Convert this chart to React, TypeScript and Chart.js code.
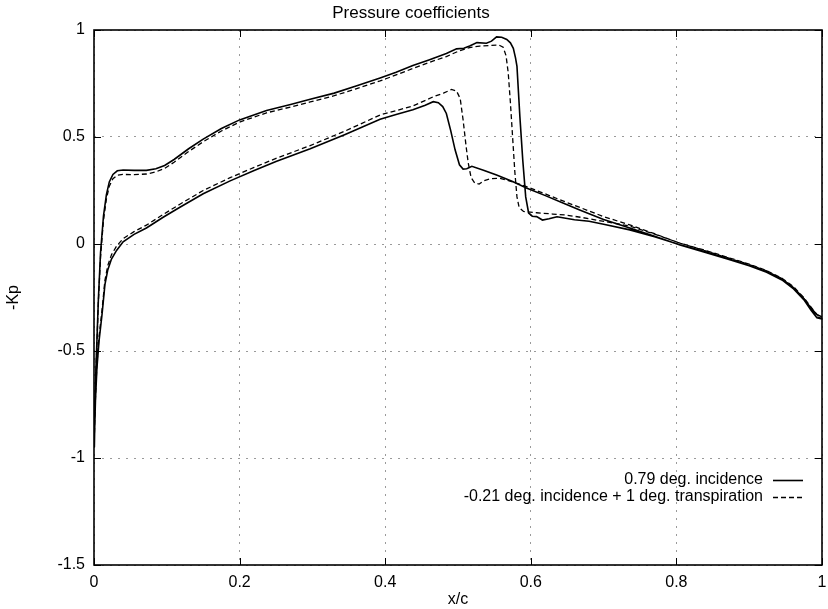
import React, { useEffect, useRef } from "react";
import { Chart, registerables } from "chart.js";

Chart.register(...registerables);

const FONT = "'Liberation Sans', Arial, Helvetica, sans-serif";

const chartTitle = "Pressure coefficients";
const xAxisTitle = "x/c";
const yAxisTitle = "-Kp";
const seriesLabels = ["0.79 deg. incidence", "-0.21 deg. incidence + 1 deg. transpiration"];

// 0.79 deg. incidence (solid) — upper surface, leading edge to trailing edge
const solidUpperX = [0, 0.001, 0.003, 0.006, 0.009, 0.013, 0.017, 0.021, 0.026, 0.032, 0.04, 0.055, 0.072, 0.085, 0.097, 0.11, 0.13, 0.15, 0.175, 0.2, 0.237, 0.27, 0.297, 0.33, 0.36, 0.393, 0.415, 0.438, 0.46, 0.484, 0.498, 0.508, 0.516, 0.526, 0.539, 0.546, 0.553, 0.56, 0.567, 0.572, 0.576, 0.579, 0.581, 0.585, 0.589, 0.593, 0.597, 0.602, 0.608, 0.616, 0.625, 0.636, 0.648, 0.66, 0.68, 0.7, 0.736, 0.77, 0.805, 0.84, 0.87, 0.9, 0.924, 0.945, 0.961, 0.975, 0.985, 0.993, 1.0];
const solidUpperY = [-0.95, -0.8, -0.55, -0.26, -0.04, 0.13, 0.23, 0.29, 0.325, 0.342, 0.346, 0.344, 0.344, 0.352, 0.367, 0.395, 0.445, 0.49, 0.54, 0.58, 0.624, 0.652, 0.676, 0.705, 0.738, 0.776, 0.803, 0.834, 0.86, 0.89, 0.912, 0.915, 0.925, 0.941, 0.938, 0.948, 0.968, 0.966, 0.956, 0.94, 0.914, 0.87, 0.83, 0.595, 0.39, 0.22, 0.145, 0.13, 0.128, 0.112, 0.118, 0.127, 0.12, 0.113, 0.106, 0.092, 0.066, 0.034, -0.004, -0.036, -0.068, -0.1, -0.13, -0.165, -0.205, -0.255, -0.3, -0.33, -0.34];

// 0.79 deg. incidence (solid) — lower surface, leading edge to trailing edge
const solidLowerX = [0, 0.001, 0.002, 0.004, 0.007, 0.011, 0.015, 0.019, 0.024, 0.031, 0.04, 0.055, 0.072, 0.095, 0.118, 0.15, 0.187, 0.22, 0.25, 0.297, 0.345, 0.393, 0.415, 0.438, 0.455, 0.466, 0.473, 0.479, 0.484, 0.49, 0.496, 0.502, 0.507, 0.512, 0.519, 0.535, 0.553, 0.575, 0.594, 0.62, 0.645, 0.668, 0.7, 0.736, 0.77, 0.805, 0.84, 0.87, 0.9, 0.924, 0.945, 0.961, 0.975, 0.985, 0.993, 1.0];
const solidLowerY = [-0.95, -0.85, -0.73, -0.58, -0.45, -0.33, -0.19, -0.12, -0.07, -0.03, 0.01, 0.045, 0.075, 0.125, 0.172, 0.235, 0.295, 0.343, 0.385, 0.445, 0.512, 0.583, 0.605, 0.627, 0.648, 0.665, 0.66, 0.642, 0.61, 0.53, 0.44, 0.37, 0.35, 0.352, 0.363, 0.345, 0.322, 0.292, 0.262, 0.226, 0.19, 0.158, 0.115, 0.075, 0.036, -0.005, -0.04, -0.07, -0.102, -0.132, -0.168, -0.21, -0.26, -0.31, -0.345, -0.35];

// -0.21 deg. incidence + 1 deg. transpiration (dashed) — upper surface
const dashedUpperX = [0, 0.001, 0.003, 0.006, 0.009, 0.013, 0.017, 0.021, 0.026, 0.032, 0.04, 0.055, 0.072, 0.085, 0.097, 0.11, 0.13, 0.15, 0.175, 0.2, 0.237, 0.27, 0.297, 0.33, 0.36, 0.393, 0.415, 0.438, 0.46, 0.484, 0.5, 0.516, 0.53, 0.545, 0.556, 0.562, 0.566, 0.569, 0.572, 0.575, 0.578, 0.581, 0.584, 0.59, 0.608, 0.63, 0.649, 0.67, 0.69, 0.736, 0.77, 0.805, 0.84, 0.87, 0.9, 0.924, 0.945, 0.961, 0.975, 0.985, 0.993, 1.0];
const dashedUpperY = [-0.95, -0.8, -0.56, -0.27, -0.06, 0.11, 0.21, 0.27, 0.305, 0.322, 0.325, 0.324, 0.327, 0.337, 0.353, 0.382, 0.432, 0.478, 0.528, 0.57, 0.613, 0.64, 0.664, 0.693, 0.725, 0.762, 0.79, 0.82, 0.848, 0.876, 0.9, 0.918, 0.925, 0.928, 0.93, 0.92, 0.88, 0.8, 0.66, 0.5, 0.34, 0.22, 0.17, 0.152, 0.146, 0.14, 0.135, 0.124, 0.112, 0.084, 0.046, 0.004, -0.03, -0.062, -0.094, -0.124, -0.16, -0.2, -0.25, -0.295, -0.33, -0.342];

// -0.21 deg. incidence + 1 deg. transpiration (dashed) — lower surface
const dashedLowerX = [0, 0.001, 0.002, 0.004, 0.007, 0.011, 0.015, 0.019, 0.024, 0.031, 0.04, 0.055, 0.072, 0.095, 0.118, 0.15, 0.187, 0.22, 0.25, 0.297, 0.345, 0.393, 0.415, 0.438, 0.466, 0.48, 0.491, 0.498, 0.503, 0.507, 0.511, 0.514, 0.518, 0.523, 0.529, 0.535, 0.545, 0.558, 0.575, 0.594, 0.62, 0.645, 0.668, 0.7, 0.736, 0.77, 0.805, 0.84, 0.87, 0.9, 0.924, 0.945, 0.961, 0.975, 0.985, 0.993, 1.0];
const dashedLowerY = [-0.95, -0.84, -0.72, -0.56, -0.43, -0.31, -0.17, -0.1, -0.05, -0.01, 0.025, 0.058, 0.088, 0.138, 0.186, 0.25, 0.31, 0.358, 0.4, 0.46, 0.528, 0.603, 0.623, 0.645, 0.688, 0.705, 0.722, 0.715, 0.68, 0.58, 0.46, 0.38, 0.31, 0.285, 0.28, 0.295, 0.305, 0.307, 0.29, 0.268, 0.234, 0.2, 0.17, 0.128, 0.089, 0.048, 0.004, -0.032, -0.064, -0.096, -0.126, -0.162, -0.205, -0.255, -0.305, -0.34, -0.348];

function toPoints(xs: number[], ys: number[]) {
  return xs.map((x, i) => ({ x, y: ys[i] }));
}

// One continuous loop: trailing edge along the lower surface to the leading edge, then the upper surface back.
function surfaceLoop(lx: number[], ly: number[], ux: number[], uy: number[]) {
  const lower = toPoints(lx, ly).reverse();
  const upper = toPoints(ux, uy).slice(1);
  return lower.concat(upper);
}

const fmt = (v: any) => String(Math.round(Number(v) * 10) / 10);

const framePlugin = {
  id: "gnuFrame",
  afterDraw(chart: any) {
    const { ctx, chartArea } = chart;
    const { left, right, top, bottom } = chartArea;
    const xs = chart.scales.x;
    const ys = chart.scales.y;
    ctx.save();
    ctx.strokeStyle = "#000";
    ctx.lineWidth = 1;
    const tl = 7;
    xs.ticks.forEach((t: any) => {
      const px = Math.round(xs.getPixelForValue(t.value)) + 0.5;
      ctx.beginPath();
      ctx.moveTo(px, bottom);
      ctx.lineTo(px, bottom - tl);
      ctx.moveTo(px, top);
      ctx.lineTo(px, top + tl);
      ctx.stroke();
    });
    ys.ticks.forEach((t: any) => {
      const py = Math.round(ys.getPixelForValue(t.value)) + 0.5;
      ctx.beginPath();
      ctx.moveTo(left, py);
      ctx.lineTo(left + tl, py);
      ctx.moveTo(right, py);
      ctx.lineTo(right - tl, py);
      ctx.stroke();
    });
    ctx.lineWidth = 1.6;
    ctx.strokeRect(left, top, right - left, bottom - top);

    // legend: right-aligned text with the line sample to its right
    ctx.font = `16px ${FONT}`;
    ctx.fillStyle = "#000";
    ctx.textAlign = "right";
    ctx.textBaseline = "middle";
    const textRight = 763;
    const rows = [480, 497];
    chart.data.datasets.forEach((ds: any, i: number) => {
      const y = rows[i];
      ctx.fillText(ds.label, textRight, y);
      ctx.beginPath();
      ctx.lineWidth = ds.borderWidth;
      ctx.setLineDash(ds.borderDash || []);
      ctx.moveTo(773, y + 0.5);
      ctx.lineTo(803, y + 0.5);
      ctx.stroke();
      ctx.setLineDash([]);
    });
    ctx.restore();
  },
};

export default function App() {
  const canvasRef = useRef<HTMLCanvasElement | null>(null);

  useEffect(() => {
    if (!canvasRef.current) return;
    const chart = new Chart(canvasRef.current, {
      type: "line",
      data: {
        datasets: [
          {
            label: seriesLabels[0],
            data: surfaceLoop(solidLowerX, solidLowerY, solidUpperX, solidUpperY),
            borderColor: "#000",
            borderWidth: 1.6,
            pointRadius: 0,
            tension: 0,
            fill: false,
          },
          {
            label: seriesLabels[1],
            data: surfaceLoop(dashedLowerX, dashedLowerY, dashedUpperX, dashedUpperY),
            borderColor: "#000",
            borderWidth: 1.3,
            borderDash: [5, 3],
            pointRadius: 0,
            tension: 0,
            fill: false,
          },
        ],
      },
      options: {
        animation: false,
        responsive: true,
        maintainAspectRatio: false,
        parsing: false as any,
        layout: { padding: { top: 0, right: 6, bottom: 0, left: 0 } },
        plugins: {
          legend: { display: false },
          tooltip: { enabled: false },
          title: {
            display: true,
            text: chartTitle,
            color: "#000",
            font: { family: FONT, size: 17, weight: "normal" },
            padding: { top: 3.5, bottom: 6.1 },
          },
        },
        scales: {
          x: {
            type: "linear",
            min: 0,
            max: 1,
            ticks: { stepSize: 0.2, color: "#000", font: { family: FONT, size: 16 }, padding: 8.4, maxRotation: 0, callback: fmt },
            grid: { color: "#9a9a9a", lineWidth: 1, drawTicks: false },
            border: { display: false, dash: [2, 6] },
            title: { display: true, text: xAxisTitle, color: "#000", font: { family: FONT, size: 16 }, padding: { top: 0, bottom: 0 } },
            afterFit: (s: any) => { s.height = 44; s.paddingLeft = 0; s.paddingRight = 0; },
          },
          y: {
            type: "linear",
            min: -1.5,
            max: 1,
            ticks: { stepSize: 0.5, color: "#000", font: { family: FONT, size: 16 }, padding: 9, callback: fmt },
            grid: { color: "#9a9a9a", lineWidth: 1, drawTicks: false },
            border: { display: false, dash: [2, 6] },
            title: { display: true, text: yAxisTitle, color: "#000", font: { family: FONT, size: 16 }, padding: { top: 3.5, bottom: 0 } },
            afterFit: (s: any) => { s.width = 94; },
          },
        },
      },
      plugins: [framePlugin],
    } as any);
    return () => chart.destroy();
  }, []);

  return (
    <div style={{ position: "fixed", left: 0, top: 0, width: 828, height: 609, background: "#fff" }}>
      <canvas ref={canvasRef} />
    </div>
  );
}
